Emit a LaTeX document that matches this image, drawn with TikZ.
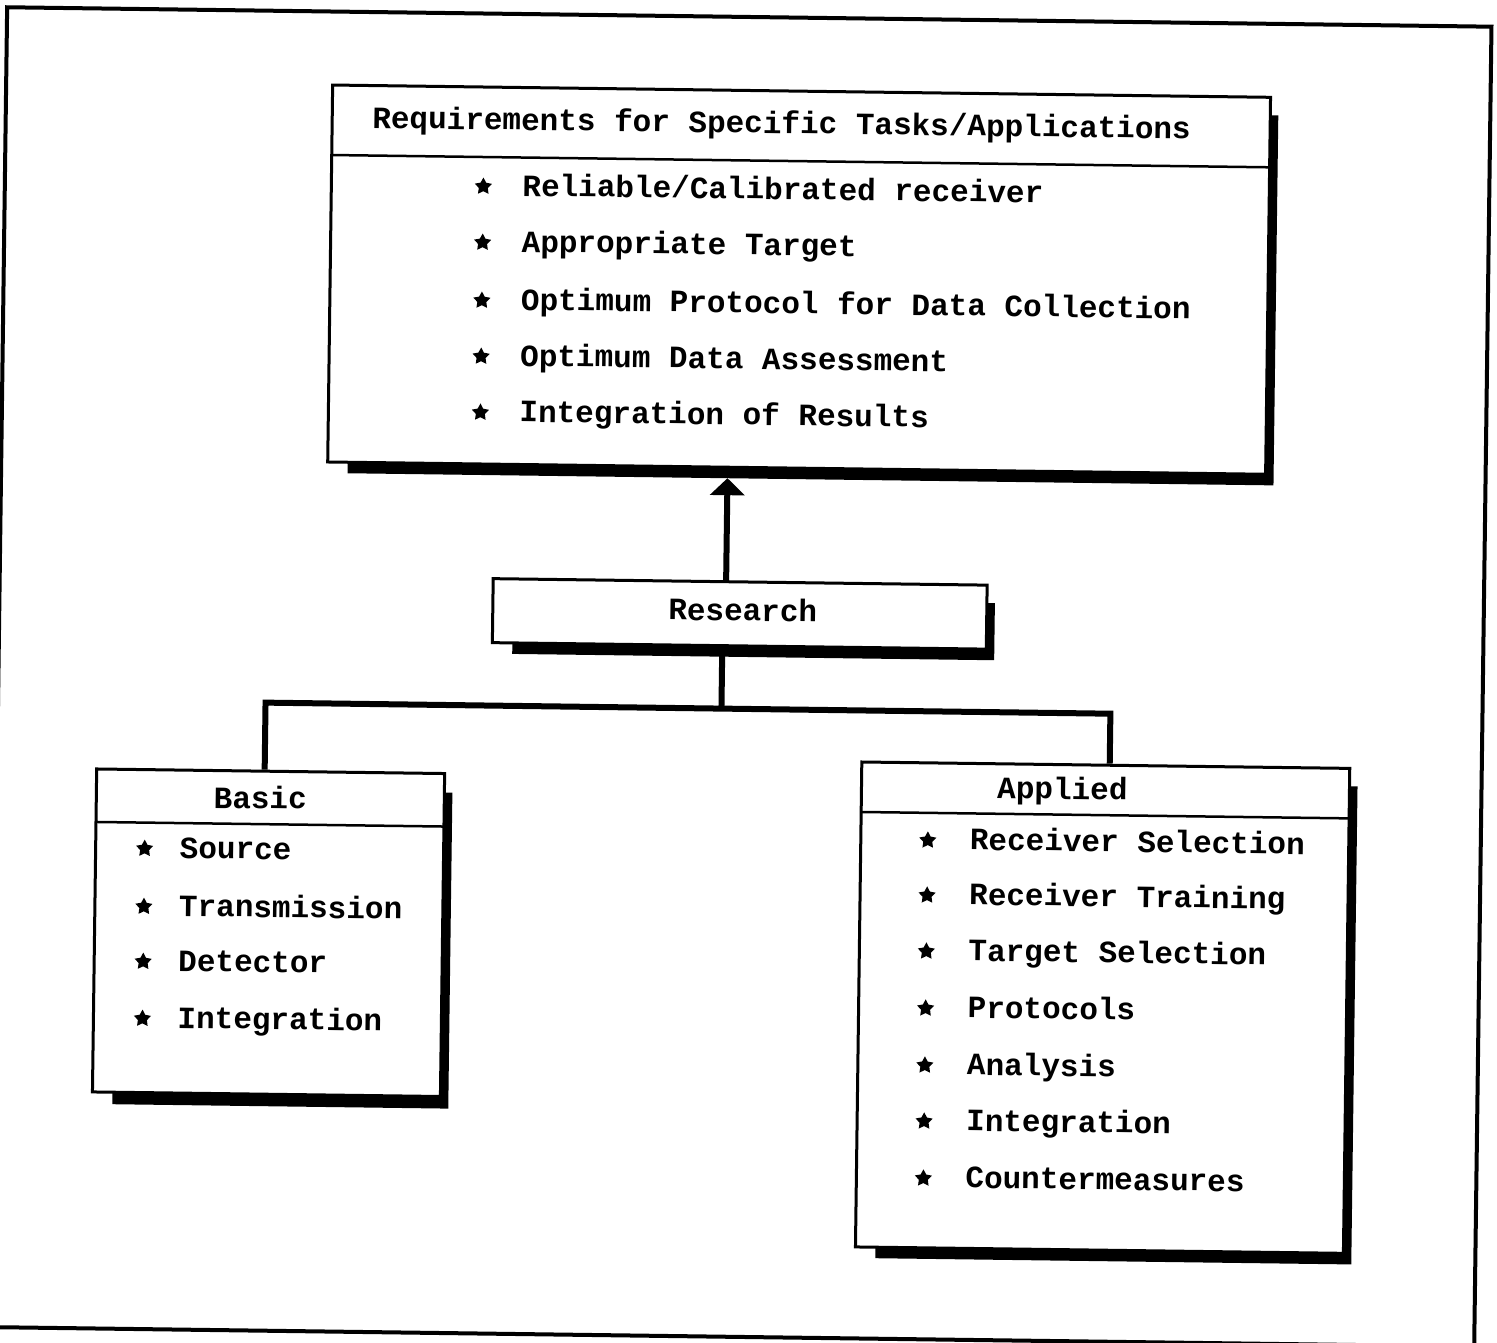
\documentclass[tikz,border=0pt]{standalone}
\usepackage{fontspec}
\newfontfamily\diagfont{Liberation Mono}
\usetikzlibrary{backgrounds,arrows.meta,shapes.geometric}
\begin{document}
\begin{tikzpicture}[x=1pt,y=-1pt,
  box/.style={draw, line width=3pt, fill=white, inner sep=0pt, transform shape},
  txt/.style={anchor=base west, inner sep=0pt, font=\diagfont\bfseries\fontsize{31}{37}\selectfont, transform shape},
  ctxt/.style={anchor=base, inner sep=0pt, font=\diagfont\bfseries\fontsize{31}{37}\selectfont, transform shape},
  bullet/.style={star, star points=5, star point ratio=1.9, fill, inner sep=0pt, minimum size=18pt, transform shape},
  conn/.style={line width=6pt},
  divider/.style={line width=2.5pt},
  frameline/.style={line width=4pt}]
\useasboundingbox (0,0) rectangle (1497,1343);
\clip (0,0) rectangle (1497,1343);
\begin{scope}[rotate around={-0.75:(748,671)}]
  % outer frame
  \draw[frameline] (-1.5,17) rectangle (1483,1337);

  % boxes
  \node[box, minimum width=938pt, minimum height=377pt] (req) at (794,279) {};
  \node[box, minimum width=494pt, minimum height=64pt] (research) at (739,614) {};
  \node[box, minimum width=348pt, minimum height=323pt] (basic) at (272,939) {};
  \node[box, minimum width=488pt, minimum height=485pt] (applied) at (1107,1003) {};

  % shadows
  \begin{pgfonlayer}{background}
    \fill (345,108.5) rectangle (1271,478.5);
    \fill (512,600) rectangle (994,657);
    \fill (118,796.5) rectangle (454,1112.5);
    \fill (883,778.5) rectangle (1359,1256.5);
  \end{pgfonlayer}

  % dividers
  \draw[divider] (325,160.5) -- (1263,160.5);
  \draw[divider] (98,830.5) -- (446,830.5);
  \draw[divider] (863,810.5) -- (1351,810.5);

  % top box text
  \node[txt] (reqhead) at (365,133) {Requirements for Specific Tasks/Applications};
  \foreach \yy/\lab/\t in {190/r1/{Reliable/Calibrated receiver},
                           246/r2/{Appropriate Target},
                           304/r3/{Optimum Protocol for Data Collection},
                           360/r4/{Optimum Data Assessment},
                           416/r5/{Integration of Results}}{
    \node[bullet] (\lab s) at (477,\yy) {};
    \node[txt] (\lab) at (516,\yy+9) {\t};
  }

  % research
  \node[ctxt] (restxt) at (742,621) {Research};

  % basic
  \node[ctxt] (basichead) at (262,815) {Basic};
  \foreach \yy/\lab/\t in {856.5/b1/Source, 914.5/b2/Transmission,
                           969.5/b3/Detector, 1026.5/b4/Integration}{
    \node[bullet] (\lab s) at (147,\yy) {};
    \node[txt] (\lab) at (182,\yy+9) {\t};
  }

  % applied
  \node[ctxt] (appliedhead) at (1064,795) {Applied};
  \foreach \yy/\lab/\t in {838/a1/{Receiver Selection}, 893/a2/{Receiver Training},
                           949/a3/{Target Selection}, 1006/a4/Protocols,
                           1063/a5/Analysis, 1119/a6/Integration,
                           1176/a7/Countermeasures}{
    \node[bullet] (\lab s) at (930,\yy) {};
    \node[txt] (\lab) at (972,\yy+9) {\t};
  }

  % connectors
  \coordinate (tip) at (725,478.5);
  \coordinate (jm) at (722,709);
  \coordinate (jl) at (266,709);
  \coordinate (jr) at (1111,709);
  \draw[conn,-{Triangle[width=34pt,length=17pt]}] (research.north -| tip) -- (tip);
  \draw[conn] (research.south -| jm) -- (jm);
  \draw[conn] (basic.north -| jl) -- (jl) -- (jr) -- (applied.north -| jr);
\end{scope}
\end{tikzpicture}
\end{document}
